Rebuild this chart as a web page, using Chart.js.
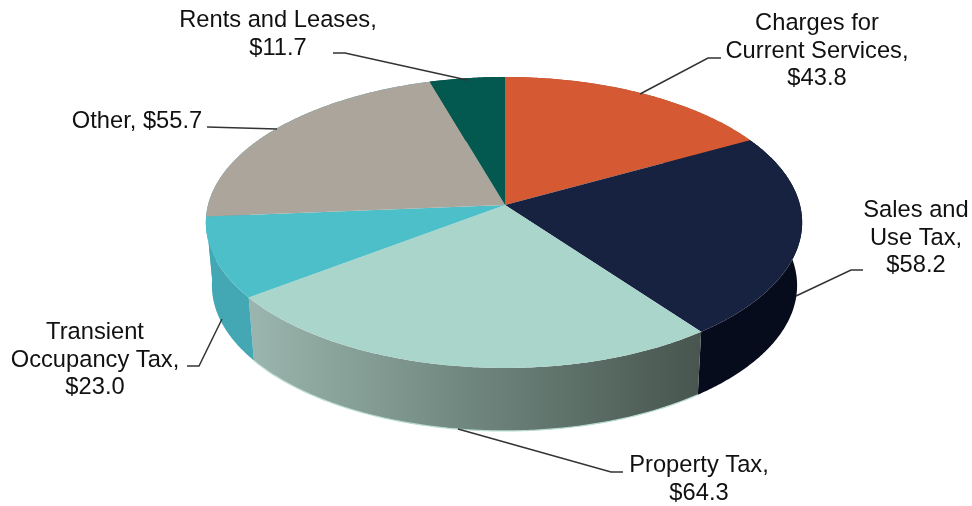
<!DOCTYPE html>
<html>
<head>
<meta charset="utf-8">
<style>
  html, body { margin: 0; padding: 0; background: #fff; }
  canvas { display: block; }
</style>
<script src="https://cdn.jsdelivr.net/npm/chart.js@4"></script>
</head>
<body>
<canvas id="revenuePie" width="972" height="506"></canvas>
<script>
const categories = ['Charges for Current Services', 'Sales and Use Tax', 'Property Tax', 'Transient Occupancy Tax', 'Other', 'Rents and Leases'];
const values = [43.8, 58.2, 64.3, 23.0, 55.7, 11.7];
const topColors = ['#d55a33', '#162240', '#aad5cb', '#4dbfc8', '#aca59b', '#03594f'];
// the back walls never show, except a sliver of Other at the far left that reads as teal
const sideColors = ['#a8482a', '#070c1c', null, '#44a7b4', '#44a7b4', '#02453d'];
const labelLines = [
  ['Charges for', 'Current Services,', '$43.8'],
  ['Sales and', 'Use Tax,', '$58.2'],
  ['Property Tax,', '$64.3'],
  ['Transient', 'Occupancy Tax,', '$23.0'],
  ['Other, $55.7'],
  ['Rents and Leases,', '$11.7']
];

// where each label sits (centre x, first baseline y) and its leader line
const labelLayout = [
  { x: 817, y: 30, line: [[721, 58], [708, 58], [640, 94]] },
  { x: 916, y: 217, line: [[863, 270], [851, 270], [796, 296]] },
  { x: 699, y: 472, line: [[623, 472], [611, 472], [458, 429]] },
  { x: 95, y: 339, line: [[187, 366], [199, 366], [222, 319]] },
  { x: 137, y: 128, line: [[207, 127], [277, 129]] },
  { x: 278, y: 27, line: [[333, 53], [345, 53], [467, 80]] }
];

// perspective of the tilted disc
const persp = 0.12;
const topRim = { cx: 505, cy: 205, rxLeft: 297, rxRight: 295, ry: 143.4 };
const lowRim = { cx: 505, cy: 268, rxLeft: 291, rxRight: 290, ry: 143.4 };

function rimPoint(rim, angle) {
  const u = Math.cos(angle), v = Math.sin(angle);
  const d = 1 - persp * v;
  const rx = u < 0 ? rim.rxLeft : rim.rxRight;
  return [rim.cx + rx * u / d, rim.cy + rim.ry * v / d];
}

function traceRim(ctx, rim, from, to) {
  const steps = Math.max(2, Math.ceil(Math.abs(to - from) / 0.01));
  for (let i = 0; i <= steps; i++) {
    const p = rimPoint(rim, from + (to - from) * i / steps);
    ctx.lineTo(p[0], p[1]);
  }
}

const pie3d = {
  id: 'pie3d',
  beforeDatasetsDraw(chart) {
    const ctx = chart.ctx;
    const arcs = chart.getDatasetMeta(0).data;
    ctx.save();

    // walls first, the top faces cover whatever is behind
    const wallFill = ctx.createLinearGradient(253, 0, 697, 0);
    wallFill.addColorStop(0, '#9ab5ad');
    wallFill.addColorStop(0.5, '#6e857d');
    wallFill.addColorStop(1, '#48564f');
    arcs.forEach((arc, i) => {
      ctx.beginPath();
      traceRim(ctx, topRim, arc.startAngle, arc.endAngle);
      traceRim(ctx, lowRim, arc.endAngle, arc.startAngle);
      ctx.closePath();
      ctx.fillStyle = sideColors[i] || wallFill;
      ctx.fill();
    });

    // pale edge under the property tax wall
    ctx.beginPath();
    traceRim(ctx, lowRim, arcs[2].startAngle, arcs[2].endAngle);
    ctx.strokeStyle = '#b8dbd2';
    ctx.lineWidth = 1.2;
    ctx.stroke();

    arcs.forEach((arc, i) => {
      ctx.beginPath();
      ctx.moveTo(topRim.cx, topRim.cy);
      traceRim(ctx, topRim, arc.startAngle, arc.endAngle);
      ctx.closePath();
      ctx.fillStyle = topColors[i];
      ctx.fill();
    });
    ctx.restore();
    return false;
  },
  afterDraw(chart) {
    const ctx = chart.ctx;
    ctx.save();
    ctx.strokeStyle = '#333';
    ctx.lineWidth = 1.5;
    ctx.fillStyle = '#111';
    ctx.font = '23.7px "Liberation Sans", Arial, sans-serif';
    ctx.textAlign = 'center';
    labelLines.forEach((lines, i) => {
      const pos = labelLayout[i];
      ctx.beginPath();
      pos.line.forEach((p, j) => j ? ctx.lineTo(p[0], p[1]) : ctx.moveTo(p[0], p[1]));
      ctx.stroke();
      lines.forEach((text, j) => ctx.fillText(text, pos.x, pos.y + j * 27.7));
    });
    ctx.restore();
  }
};

new Chart(document.getElementById('revenuePie').getContext('2d'), {
  type: 'pie',
  data: {
    labels: categories,
    datasets: [{ data: values, backgroundColor: topColors, borderWidth: 0 }]
  },
  options: {
    responsive: false,
    animation: false,
    plugins: {
      legend: { display: false },
      tooltip: { enabled: false }
    }
  },
  plugins: [pie3d]
});
</script>
</body>
</html>
